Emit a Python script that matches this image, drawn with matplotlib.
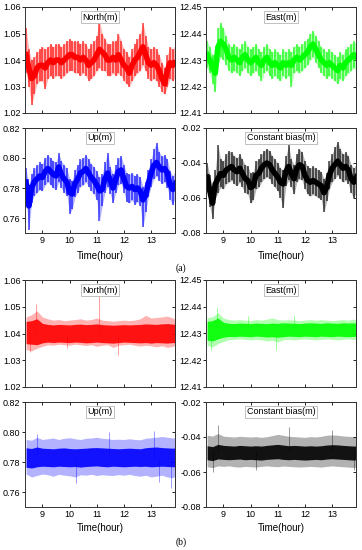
import matplotlib
matplotlib.use("Agg")
import matplotlib.pyplot as plt

plt.rcParams["font.family"] = ["Liberation Sans", "DejaVu Sans"]

# ---- (a) series, sampled every 0.1 h ----------------------------------------
t_a = [8.4, 8.5, 8.6, 8.7, 8.8, 8.9, 9.0, 9.1, 9.2, 9.3,
       9.4, 9.5, 9.6, 9.7, 9.8, 9.9, 10.0, 10.1, 10.2, 10.3,
       10.4, 10.5, 10.6, 10.7, 10.8, 10.9, 11.0, 11.1, 11.2, 11.3,
       11.4, 11.5, 11.6, 11.7, 11.8, 11.9, 12.0, 12.1, 12.2, 12.3,
       12.4, 12.5, 12.6, 12.7, 12.8, 12.9, 13.0, 13.1, 13.2, 13.3,
       13.4, 13.5, 13.6, 13.7, 13.8, 13.9]

north_a_mid = [1.042, 1.037, 1.033, 1.034, 1.037, 1.038, 1.038, 1.037, 1.039, 1.040,
               1.039, 1.040, 1.040, 1.039, 1.040, 1.041, 1.042, 1.042, 1.041, 1.041,
               1.040, 1.041, 1.040, 1.038, 1.039, 1.040, 1.042, 1.044, 1.043, 1.042,
               1.040, 1.040, 1.041, 1.040, 1.042, 1.040, 1.038, 1.037, 1.035, 1.038,
               1.040, 1.041, 1.043, 1.045, 1.042, 1.039, 1.038, 1.039, 1.038, 1.036,
               1.033, 1.031, 1.036, 1.039, 1.038, 1.039]
north_a_lo = [1.035, 1.030, 1.023, 1.027, 1.031, 1.032, 1.032, 1.029, 1.033, 1.034,
              1.033, 1.034, 1.034, 1.033, 1.034, 1.035, 1.036, 1.036, 1.035, 1.035,
              1.034, 1.035, 1.034, 1.032, 1.033, 1.034, 1.036, 1.037, 1.036, 1.036,
              1.034, 1.034, 1.035, 1.034, 1.035, 1.034, 1.032, 1.031, 1.030, 1.032,
              1.034, 1.035, 1.036, 1.038, 1.036, 1.033, 1.032, 1.033, 1.032, 1.030,
              1.028, 1.027, 1.030, 1.033, 1.032, 1.034]
north_a_hi = [1.052, 1.044, 1.040, 1.041, 1.043, 1.044, 1.045, 1.044, 1.045, 1.046,
              1.045, 1.046, 1.046, 1.045, 1.046, 1.047, 1.048, 1.047, 1.047, 1.047,
              1.046, 1.047, 1.046, 1.044, 1.046, 1.047, 1.049, 1.055, 1.050, 1.048,
              1.046, 1.046, 1.047, 1.047, 1.050, 1.047, 1.044, 1.043, 1.041, 1.044,
              1.046, 1.048, 1.050, 1.054, 1.049, 1.045, 1.044, 1.045, 1.044, 1.042,
              1.039, 1.037, 1.042, 1.045, 1.044, 1.046]

east_a_mid = [12.432, 12.430, 12.427, 12.425, 12.435, 12.437, 12.436, 12.434, 12.431, 12.430,
              12.431, 12.430, 12.429, 12.431, 12.432, 12.430, 12.429, 12.430, 12.431, 12.429,
              12.428, 12.430, 12.431, 12.429, 12.428, 12.429, 12.428, 12.427, 12.429, 12.428,
              12.429, 12.428, 12.430, 12.431, 12.430, 12.431, 12.432, 12.433, 12.435, 12.436,
              12.434, 12.432, 12.430, 12.429, 12.428, 12.429, 12.428, 12.427, 12.426, 12.428,
              12.427, 12.429, 12.430, 12.431, 12.432, 12.431]
east_a_lo = [12.427, 12.425, 12.421, 12.418, 12.428, 12.431, 12.430, 12.428, 12.426, 12.425,
             12.426, 12.425, 12.424, 12.426, 12.427, 12.425, 12.424, 12.425, 12.426, 12.424,
             12.422, 12.425, 12.426, 12.424, 12.423, 12.424, 12.423, 12.422, 12.424, 12.423,
             12.424, 12.420, 12.425, 12.426, 12.425, 12.426, 12.427, 12.428, 12.430, 12.431,
             12.429, 12.427, 12.425, 12.424, 12.423, 12.424, 12.423, 12.422, 12.421, 12.423,
             12.422, 12.424, 12.425, 12.426, 12.427, 12.426]
east_a_hi = [12.437, 12.435, 12.432, 12.432, 12.442, 12.444, 12.442, 12.439, 12.436, 12.435,
             12.436, 12.435, 12.434, 12.436, 12.437, 12.435, 12.434, 12.435, 12.436, 12.434,
             12.433, 12.435, 12.436, 12.434, 12.433, 12.434, 12.433, 12.432, 12.434, 12.433,
             12.434, 12.433, 12.435, 12.436, 12.435, 12.436, 12.437, 12.438, 12.440, 12.441,
             12.439, 12.437, 12.435, 12.434, 12.433, 12.434, 12.433, 12.432, 12.431, 12.433,
             12.432, 12.434, 12.435, 12.436, 12.437, 12.436]

up_a_mid = [0.784, 0.768, 0.780, 0.784, 0.786, 0.788, 0.787, 0.791, 0.793, 0.791,
            0.789, 0.788, 0.794, 0.789, 0.786, 0.784, 0.777, 0.776, 0.783, 0.786,
            0.790, 0.791, 0.793, 0.790, 0.787, 0.785, 0.782, 0.778, 0.779, 0.786,
            0.790, 0.785, 0.780, 0.786, 0.791, 0.792, 0.786, 0.781, 0.780, 0.781,
            0.779, 0.780, 0.778, 0.772, 0.775, 0.783, 0.790, 0.795, 0.797, 0.794,
            0.792, 0.793, 0.790, 0.782, 0.779, 0.783]
up_a_lo = [0.774, 0.752, 0.770, 0.775, 0.777, 0.779, 0.778, 0.782, 0.784, 0.782,
           0.780, 0.779, 0.784, 0.780, 0.777, 0.775, 0.763, 0.766, 0.774, 0.777,
           0.781, 0.782, 0.784, 0.781, 0.778, 0.776, 0.772, 0.758, 0.768, 0.777,
           0.781, 0.776, 0.770, 0.777, 0.782, 0.783, 0.777, 0.771, 0.770, 0.772,
           0.769, 0.771, 0.768, 0.754, 0.764, 0.774, 0.781, 0.786, 0.788, 0.785,
           0.783, 0.784, 0.780, 0.772, 0.769, 0.774]
up_a_hi = [0.793, 0.782, 0.789, 0.793, 0.795, 0.797, 0.796, 0.800, 0.802, 0.800,
           0.798, 0.797, 0.803, 0.798, 0.795, 0.793, 0.786, 0.785, 0.792, 0.795,
           0.799, 0.800, 0.802, 0.799, 0.796, 0.794, 0.791, 0.787, 0.789, 0.797,
           0.803, 0.794, 0.789, 0.795, 0.800, 0.801, 0.795, 0.790, 0.789, 0.790,
           0.788, 0.789, 0.787, 0.781, 0.784, 0.792, 0.799, 0.806, 0.810, 0.804,
           0.801, 0.802, 0.799, 0.791, 0.788, 0.792]

bias_a_mid = [-0.048, -0.056, -0.063, -0.052, -0.049, -0.046, -0.047, -0.044, -0.043, -0.042,
              -0.044, -0.045, -0.043, -0.046, -0.049, -0.050, -0.054, -0.053, -0.047, -0.046,
              -0.043, -0.041, -0.040, -0.041, -0.044, -0.046, -0.048, -0.051, -0.052, -0.045,
              -0.042, -0.046, -0.049, -0.043, -0.041, -0.042, -0.047, -0.050, -0.051, -0.050,
              -0.051, -0.052, -0.053, -0.057, -0.054, -0.047, -0.043, -0.041, -0.039, -0.041,
              -0.043, -0.042, -0.044, -0.049, -0.051, -0.048]
bias_a_lo = [-0.056, -0.065, -0.072, -0.060, -0.057, -0.054, -0.055, -0.052, -0.051, -0.050,
             -0.052, -0.053, -0.051, -0.054, -0.057, -0.058, -0.063, -0.061, -0.055, -0.054,
             -0.051, -0.049, -0.048, -0.049, -0.052, -0.054, -0.056, -0.060, -0.066, -0.053,
             -0.050, -0.054, -0.058, -0.051, -0.049, -0.050, -0.055, -0.058, -0.059, -0.058,
             -0.059, -0.060, -0.061, -0.068, -0.062, -0.055, -0.051, -0.049, -0.047, -0.049,
             -0.051, -0.050, -0.052, -0.057, -0.060, -0.056]
bias_a_hi = [-0.040, -0.047, -0.054, -0.044, -0.030, -0.038, -0.039, -0.035, -0.033, -0.034,
             -0.036, -0.037, -0.035, -0.038, -0.041, -0.042, -0.046, -0.045, -0.039, -0.038,
             -0.035, -0.033, -0.032, -0.033, -0.036, -0.038, -0.040, -0.043, -0.044, -0.036,
             -0.030, -0.038, -0.041, -0.035, -0.032, -0.034, -0.039, -0.042, -0.043, -0.042,
             -0.043, -0.044, -0.045, -0.049, -0.046, -0.039, -0.035, -0.031, -0.028, -0.032,
             -0.035, -0.034, -0.036, -0.041, -0.043, -0.040]

# ---- (b) series, sampled every 0.2 h ----------------------------------------
t_b = [8.4, 8.6, 8.8, 9.0, 9.2, 9.4, 9.6, 9.8, 10.0, 10.2,
       10.4, 10.6, 10.8, 11.0, 11.2, 11.4, 11.6, 11.8, 12.0, 12.2,
       12.4, 12.6, 12.8, 13.0, 13.2, 13.4, 13.6, 13.8, 13.9]

north_b_core_lo = [1.0362, 1.0360, 1.0358, 1.0365, 1.0368, 1.0366, 1.0368, 1.0367, 1.0366, 1.0368,
                   1.0367, 1.0365, 1.0366, 1.0368, 1.0366, 1.0365, 1.0364, 1.0366, 1.0368, 1.0367,
                   1.0366, 1.0365, 1.0366, 1.0364, 1.0366, 1.0365, 1.0364, 1.0366, 1.0366]
north_b_core_hi = [1.0445, 1.0448, 1.0455, 1.0438, 1.0434, 1.0432, 1.0434, 1.0433, 1.0432, 1.0434,
                   1.0435, 1.0433, 1.0434, 1.0436, 1.0433, 1.0432, 1.0431, 1.0432, 1.0433, 1.0432,
                   1.0433, 1.0434, 1.0436, 1.0435, 1.0434, 1.0436, 1.0437, 1.0435, 1.0434]
north_b_lo = [1.0340, 1.0335, 1.0345, 1.0352, 1.0358, 1.0356, 1.0360, 1.0358, 1.0356, 1.0360,
              1.0358, 1.0355, 1.0358, 1.0352, 1.0356, 1.0358, 1.0348, 1.0356, 1.0358, 1.0360,
              1.0356, 1.0353, 1.0356, 1.0354, 1.0350, 1.0354, 1.0348, 1.0352, 1.0355]
north_b_hi = [1.0462, 1.0470, 1.0485, 1.0462, 1.0455, 1.0450, 1.0452, 1.0448, 1.0450, 1.0452,
              1.0455, 1.0450, 1.0452, 1.0458, 1.0450, 1.0448, 1.0446, 1.0448, 1.0450, 1.0448,
              1.0450, 1.0455, 1.0468, 1.0458, 1.0460, 1.0462, 1.0465, 1.0458, 1.0455]
north_b_spike_t = [8.75, 11.1, 8.55, 11.8, 9.9]
north_b_spike_lo = [1.0400, 1.0400, 1.0330, 1.0320, 1.0345]
north_b_spike_hi = [1.0510, 1.0550, 1.0400, 1.0400, 1.0400]

east_b_core_lo = [12.4275, 12.4272, 12.4280, 12.4286, 12.4289, 12.4288, 12.4290, 12.4289, 12.4288, 12.4290,
                  12.4289, 12.4287, 12.4288, 12.4286, 12.4288, 12.4290, 12.4289, 12.4288, 12.4290, 12.4289,
                  12.4288, 12.4290, 12.4289, 12.4288, 12.4290, 12.4289, 12.4288, 12.4289, 12.4290]
east_b_core_hi = [12.4345, 12.4348, 12.4358, 12.4342, 12.4338, 12.4337, 12.4339, 12.4338, 12.4337, 12.4339,
                  12.4338, 12.4337, 12.4339, 12.4338, 12.4340, 12.4339, 12.4338, 12.4337, 12.4339, 12.4340,
                  12.4339, 12.4338, 12.4340, 12.4339, 12.4338, 12.4340, 12.4339, 12.4340, 12.4338]
east_b_lo = [12.4255, 12.4250, 12.4262, 12.4270, 12.4276, 12.4278, 12.4280, 12.4278, 12.4276, 12.4278,
             12.4276, 12.4272, 12.4275, 12.4268, 12.4276, 12.4278, 12.4276, 12.4278, 12.4280, 12.4278,
             12.4276, 12.4278, 12.4280, 12.4278, 12.4276, 12.4278, 12.4280, 12.4278, 12.4279]
east_b_hi = [12.4360, 12.4362, 12.4378, 12.4358, 12.4352, 12.4350, 12.4352, 12.4350, 12.4348, 12.4352,
             12.4350, 12.4354, 12.4358, 12.4352, 12.4350, 12.4352, 12.4350, 12.4348, 12.4350, 12.4352,
             12.4350, 12.4352, 12.4350, 12.4348, 12.4350, 12.4352, 12.4350, 12.4354, 12.4350]
east_b_spike_t = [8.75, 8.55, 10.95, 9.9, 11.6]
east_b_spike_lo = [12.4310, 12.4240, 12.4240, 12.4310, 12.4310]
east_b_spike_hi = [12.4400, 12.4310, 12.4310, 12.4365, 12.4370]

up_b_core_lo = [0.7765, 0.7760, 0.7768, 0.7772, 0.7770, 0.7768, 0.7772, 0.7770, 0.7768, 0.7770,
                0.7766, 0.7770, 0.7772, 0.7774, 0.7770, 0.7768, 0.7772, 0.7770, 0.7768, 0.7770,
                0.7772, 0.7770, 0.7772, 0.7768, 0.7770, 0.7772, 0.7770, 0.7768, 0.7770]
up_b_core_hi = [0.7895, 0.7890, 0.7900, 0.7892, 0.7890, 0.7888, 0.7892, 0.7894, 0.7890, 0.7888,
                0.7890, 0.7892, 0.7895, 0.7896, 0.7894, 0.7892, 0.7890, 0.7888, 0.7890, 0.7892,
                0.7890, 0.7888, 0.7895, 0.7898, 0.7900, 0.7896, 0.7894, 0.7892, 0.7895]
up_b_lo = [0.7720, 0.7700, 0.7710, 0.7720, 0.7715, 0.7705, 0.7718, 0.7712, 0.7708, 0.7700,
           0.7715, 0.7712, 0.7718, 0.7710, 0.7715, 0.7712, 0.7710, 0.7716, 0.7712, 0.7718,
           0.7710, 0.7705, 0.7712, 0.7700, 0.7706, 0.7712, 0.7700, 0.7695, 0.7710]
up_b_hi = [0.7950, 0.7945, 0.7965, 0.7950, 0.7955, 0.7960, 0.7950, 0.7958, 0.7962, 0.7955,
           0.7950, 0.7958, 0.7960, 0.7965, 0.7958, 0.7955, 0.7950, 0.7952, 0.7950, 0.7955,
           0.7950, 0.7948, 0.7958, 0.7962, 0.7965, 0.7970, 0.7965, 0.7960, 0.7962]
up_b_spike_t = [8.80, 10.25, 11.45, 13.10, 13.30, 13.75]
up_b_spike_lo = [0.783, 0.766, 0.783, 0.783, 0.767, 0.763]
up_b_spike_hi = [0.799, 0.783, 0.800, 0.801, 0.783, 0.783]

bias_b_core_lo = [-0.0530, -0.0535, -0.0525, -0.0528, -0.0530, -0.0528, -0.0526, -0.0530, -0.0528, -0.0530,
                  -0.0532, -0.0528, -0.0526, -0.0524, -0.0528, -0.0530, -0.0528, -0.0530, -0.0532, -0.0530,
                  -0.0528, -0.0530, -0.0526, -0.0524, -0.0526, -0.0528, -0.0530, -0.0532, -0.0530]
bias_b_core_hi = [-0.0450, -0.0455, -0.0442, -0.0448, -0.0450, -0.0452, -0.0448, -0.0450, -0.0452, -0.0450,
                  -0.0452, -0.0448, -0.0445, -0.0442, -0.0446, -0.0450, -0.0448, -0.0450, -0.0452, -0.0450,
                  -0.0452, -0.0450, -0.0446, -0.0444, -0.0445, -0.0448, -0.0450, -0.0452, -0.0450]
bias_b_lo = [-0.0570, -0.0575, -0.0565, -0.0568, -0.0565, -0.0570, -0.0572, -0.0568, -0.0570, -0.0572,
             -0.0568, -0.0565, -0.0568, -0.0570, -0.0566, -0.0568, -0.0570, -0.0572, -0.0570, -0.0568,
             -0.0570, -0.0572, -0.0568, -0.0565, -0.0568, -0.0570, -0.0572, -0.0575, -0.0570]
bias_b_hi = [-0.0390, -0.0395, -0.0380, -0.0395, -0.0398, -0.0400, -0.0396, -0.0398, -0.0400, -0.0398,
             -0.0402, -0.0398, -0.0392, -0.0385, -0.0390, -0.0396, -0.0398, -0.0400, -0.0402, -0.0398,
             -0.0400, -0.0396, -0.0390, -0.0388, -0.0390, -0.0394, -0.0396, -0.0398, -0.0396]
bias_b_spike_t = [8.6, 8.8, 10.2, 11.4, 13.0, 13.8]
bias_b_spike_lo = [-0.060, -0.048, -0.059, -0.048, -0.048, -0.059]
bias_b_spike_hi = [-0.048, -0.033, -0.048, -0.034, -0.036, -0.048]

# axis setup per component
north_ticks = [1.02, 1.03, 1.04, 1.05, 1.06]
east_ticks = [12.41, 12.42, 12.43, 12.44, 12.45]
up_ticks = [0.76, 0.78, 0.80, 0.82]
bias_ticks = [-0.08, -0.06, -0.04, -0.02]
hour_ticks = [9, 10, 11, 12, 13]

RED, GREEN, BLUE, BLACK = "#ff0000", "#00ff00", "#0000ff", "#000000"


def style(ax, ylim, yticks, title, show_x):
    ax.set_xlim(8.36, 13.88)
    ax.set_ylim(*ylim)
    ax.set_yticks(yticks)
    ax.set_yticklabels([f"{v:.2f}" for v in yticks])
    ax.set_xticks(hour_ticks)
    ax.tick_params(axis="y", direction="out", length=2, width=0.6,
                   labelsize=6.5, pad=1.2)
    ax.tick_params(axis="x", direction="in", length=2, width=0.6,
                   labelsize=6.5, pad=2.5, labelbottom=show_x)
    # inward ticks on the opposite frame sides
    sx = ax.secondary_xaxis("top")
    sx.set_xticks(hour_ticks)
    sx.tick_params(direction="in", length=2, width=0.6, labeltop=False)
    sy = ax.secondary_yaxis("right")
    sy.set_yticks(yticks)
    sy.tick_params(direction="in", length=2, width=0.6, labelright=False)
    for s in list(ax.spines.values()) + [sx.spines["top"], sy.spines["right"]]:
        s.set_linewidth(0.7)
        s.set_color("#333333")
    ax.text(0.5, 0.905, title, transform=ax.transAxes, ha="center", va="center",
            fontsize=6.5, zorder=5,
            bbox=dict(boxstyle="square,pad=0.18", fc="white", ec="#b5b5b5", lw=0.6))


def draw_a(ax, mid, lo, hi, color):
    ax.fill_between(t_a, lo, hi, color=color, alpha=0.3, lw=0)
    ax.vlines(t_a, lo, hi, color=color, lw=1.4, alpha=0.6)
    ax.plot(t_a, mid, color=color, lw=4.0)


def draw_b(ax, core_lo, core_hi, lo, hi, sp_t, sp_lo, sp_hi, color):
    ax.fill_between(t_b, lo, hi, color=color, alpha=0.3, lw=0)
    ax.vlines(sp_t, sp_lo, sp_hi, color=color, lw=0.6, alpha=0.45)
    ax.fill_between(t_b, core_lo, core_hi, color=color, lw=0, alpha=0.9)


fig = plt.figure(figsize=(3.62, 5.5), dpi=100)
left_x, right_x, w = 25 / 362, 206 / 362, 150 / 362
rows = [(1 - 113 / 550, 106 / 550), (1 - 233 / 550, 105 / 550),
        (1 - 387 / 550, 107 / 550), (1 - 507 / 550, 105 / 550)]

ax = fig.add_axes([left_x, rows[0][0], w, rows[0][1]])
draw_a(ax, north_a_mid, north_a_lo, north_a_hi, RED)
style(ax, (1.02, 1.06), north_ticks, "North(m)", False)

ax = fig.add_axes([right_x, rows[0][0], w, rows[0][1]])
draw_a(ax, east_a_mid, east_a_lo, east_a_hi, GREEN)
style(ax, (12.41, 12.45), east_ticks, "East(m)", False)

ax = fig.add_axes([left_x, rows[1][0], w, rows[1][1]])
draw_a(ax, up_a_mid, up_a_lo, up_a_hi, BLUE)
style(ax, (0.75, 0.82), up_ticks, "Up(m)", True)

ax = fig.add_axes([right_x, rows[1][0], w, rows[1][1]])
draw_a(ax, bias_a_mid, bias_a_lo, bias_a_hi, BLACK)
style(ax, (-0.08, -0.02), bias_ticks, "Constant bias(m)", True)

ax = fig.add_axes([left_x, rows[2][0], w, rows[2][1]])
draw_b(ax, north_b_core_lo, north_b_core_hi, north_b_lo, north_b_hi,
       north_b_spike_t, north_b_spike_lo, north_b_spike_hi, RED)
style(ax, (1.02, 1.06), north_ticks, "North(m)", False)

ax = fig.add_axes([right_x, rows[2][0], w, rows[2][1]])
draw_b(ax, east_b_core_lo, east_b_core_hi, east_b_lo, east_b_hi,
       east_b_spike_t, east_b_spike_lo, east_b_spike_hi, GREEN)
style(ax, (12.41, 12.45), east_ticks, "East(m)", False)

ax = fig.add_axes([left_x, rows[3][0], w, rows[3][1]])
draw_b(ax, up_b_core_lo, up_b_core_hi, up_b_lo, up_b_hi,
       up_b_spike_t, up_b_spike_lo, up_b_spike_hi, BLUE)
style(ax, (0.75, 0.82), up_ticks, "Up(m)", True)

ax = fig.add_axes([right_x, rows[3][0], w, rows[3][1]])
draw_b(ax, bias_b_core_lo, bias_b_core_hi, bias_b_lo, bias_b_hi,
       bias_b_spike_t, bias_b_spike_lo, bias_b_spike_hi, BLACK)
style(ax, (-0.08, -0.02), bias_ticks, "Constant bias(m)", True)

for y in (1 - 256 / 550, 1 - 528 / 550):
    fig.text(100 / 362, y, "Time(hour)", ha="center", va="center", fontsize=7)
    fig.text(281 / 362, y, "Time(hour)", ha="center", va="center", fontsize=7)

fig.text(0.5, 1 - 268 / 550, "(a)", ha="center", va="center", fontsize=7,
         family=["Liberation Serif", "DejaVu Serif"])
fig.text(0.5, 1 - 542 / 550, "(b)", ha="center", va="center", fontsize=7,
         family=["Liberation Serif", "DejaVu Serif"])

fig.savefig("out.png", dpi=100)
